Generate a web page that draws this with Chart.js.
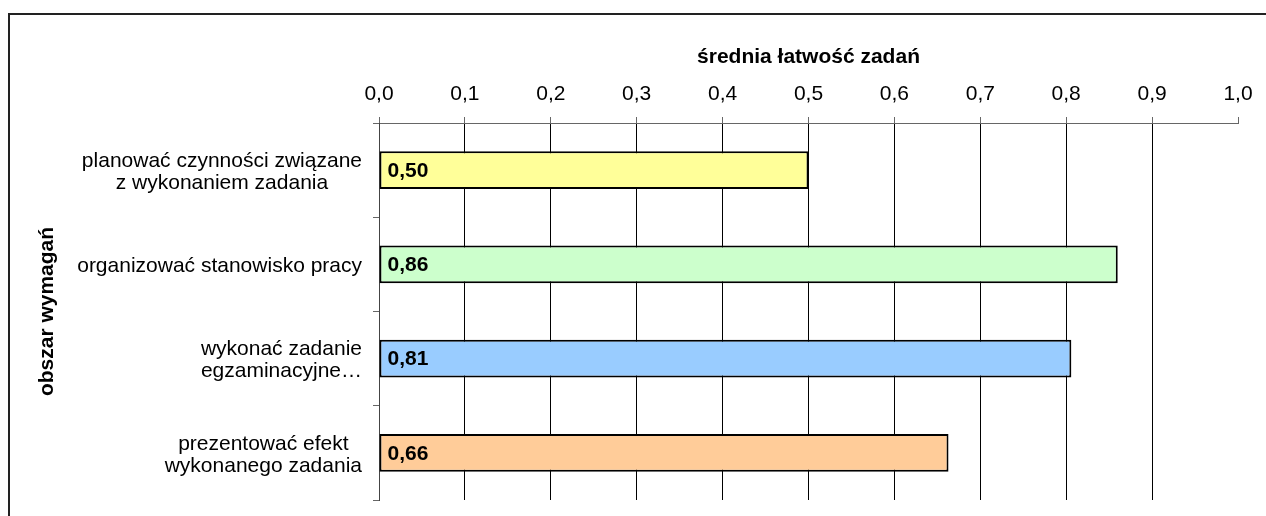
<!DOCTYPE html>
<html lang="pl">
<head>
<meta charset="utf-8">
<script src="https://cdn.jsdelivr.net/npm/chart.js@4"></script>
<style>
  html, body { margin: 0; padding: 0; background: #fff; overflow: hidden; }
  #frame { position: absolute; left: 8px; top: 13px; width: 1300px; height: 600px; border: 2px solid #222; }
  #wrap { position: absolute; left: 0; top: 0; width: 1266px; height: 516px; }
</style>
</head>
<body>
<div id="frame"></div>
<div id="wrap"><canvas id="chart" width="1266" height="516"></canvas></div>
<script>
const kategorie = [
    ['planować czynności związane', 'z wykonaniem zadania'],
    ['organizować stanowisko pracy'],
    ['wykonać zadanie', 'egzaminacyjne…'],
    ['prezentować efekt', 'wykonanego zadania']
];
const latwosc = [0.50, 0.86, 0.806, 0.663];
const kolory = ['#FFFF99', '#CCFFCC', '#99CCFF', '#FFCC99'];
const tytulX = 'średnia łatwość zadań';
const tytulY = 'obszar wymagań';

const FONT = "'Liberation Sans', Arial, sans-serif";
const ROZMIAR = 21;

// etykiety kategorii: kazda linia wysrodkowana w obrebie swojego bloku, blok wyrownany do prawej
const etykietyY = {
    id: 'etykietyY',
    afterDraw(chart) {
        const ctx = chart.ctx;
        const sy = chart.scales.y;
        const prawa = sy.right - 6 - 11;
        ctx.save();
        ctx.font = ROZMIAR + 'px ' + FONT;
        ctx.fillStyle = '#000';
        ctx.textAlign = 'center';
        ctx.textBaseline = 'middle';
        kategorie.forEach((linie, i) => {
            const w = Math.max(...linie.map(l => ctx.measureText(l).width));
            const cx = prawa - w / 2;
            const cy = sy.getPixelForValue(i) + 2;
            const lh = 22;
            linie.forEach((l, j) => {
                ctx.fillText(l, cx, cy + (j - (linie.length - 1) / 2) * lh);
            });
        });
        ctx.restore();
    }
};

// wartosci na slupkach
const wartosci = {
    id: 'wartosci',
    afterDatasetsDraw(chart) {
        const ctx = chart.ctx;
        const meta = chart.getDatasetMeta(0);
        ctx.save();
        ctx.font = 'bold ' + ROZMIAR + 'px ' + FONT;
        ctx.fillStyle = '#000';
        ctx.textAlign = 'left';
        ctx.textBaseline = 'middle';
        meta.data.forEach((bar, i) => {
            ctx.fillText(latwosc[i].toFixed(2).replace('.', ','), bar.base + 8, bar.y + 1);
        });
        ctx.restore();
    }
};

new Chart(document.getElementById('chart'), {
    type: 'bar',
    data: {
        labels: kategorie,
        datasets: [{
            data: latwosc,
            backgroundColor: kolory,
            borderColor: '#000',
            borderWidth: 2,
            borderSkipped: false,
            barPercentage: 0.4,
            categoryPercentage: 1
        }]
    },
    options: {
        indexAxis: 'y',
        responsive: false,
        animation: false,
        layout: { padding: { left: 35, top: 30, right: 28, bottom: 16 } },
        plugins: { legend: { display: false }, tooltip: { enabled: false } },
        scales: {
            x: {
                type: 'linear',
                position: 'top',
                min: 0,
                max: 1,
                afterFit: s => { s.height = 93; },
                ticks: {
                    stepSize: 0.1,
                    padding: 10,
                    color: '#000',
                    font: { family: FONT, size: ROZMIAR },
                    callback: v => v.toFixed(1).replace('.', ',')
                },
                grid: {
                    color: c => (c.tick && c.tick.value >= 1) ? 'rgba(0,0,0,0)' : '#000',
                    tickColor: '#666',
                    tickLength: 6,
                    lineWidth: 1
                },
                border: { color: '#666', width: 1 },
                title: {
                    display: true,
                    text: tytulX,
                    color: '#000',
                    font: { family: FONT, size: ROZMIAR, weight: 'bold' },
                    padding: { top: 15, bottom: 0 }
                }
            },
            y: {
                afterFit: s => { s.width = 344; },
                ticks: { display: false },
                grid: {
                    offset: true,
                    drawOnChartArea: false,
                    tickLength: 6,
                    color: '#666'
                },
                border: { color: '#444', width: 1 },
                title: {
                    display: true,
                    text: tytulY,
                    color: '#000',
                    font: { family: FONT, size: ROZMIAR, weight: 'bold' },
                    padding: 0
                }
            }
        }
    },
    plugins: [etykietyY, wartosci]
});
</script>
</body>
</html>
